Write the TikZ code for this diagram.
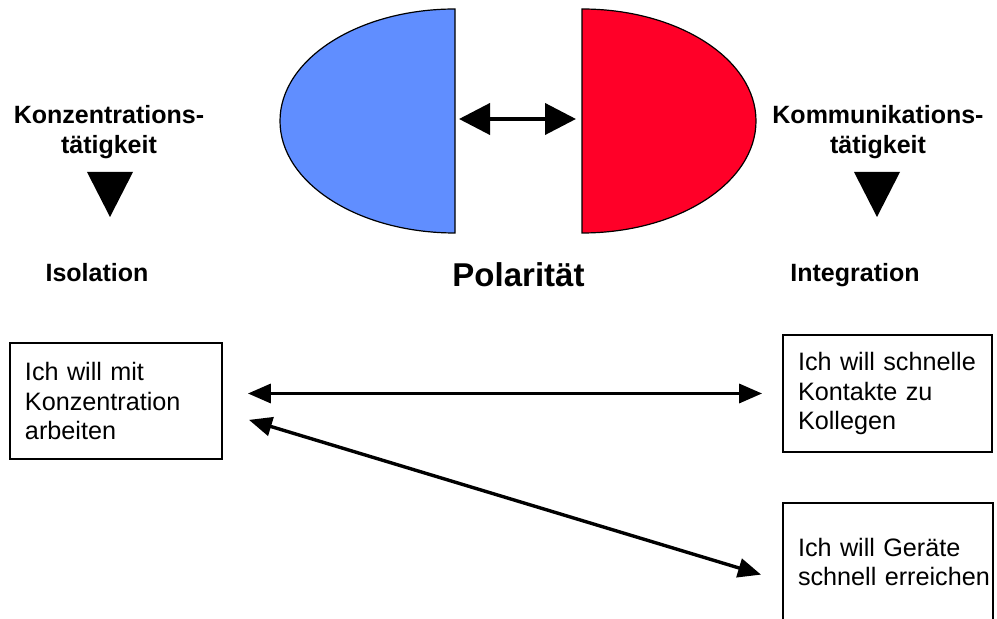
\documentclass[tikz,border=0pt]{standalone}
\usepackage{fontspec}
\setmainfont{Liberation Sans}
\usetikzlibrary{arrows.meta,positioning}
\definecolor{poleblue}{RGB}{96,142,255}
\definecolor{polered}{RGB}{255,0,40}
\tikzset{
  half/.style    = {draw=black, line width=0.6pt},
  heading/.style = {font=\bfseries\fontsize{12.5}{15}\selectfont, align=center},
  idea/.style    = {draw, rectangle, line width=0.9pt, align=left, inner xsep=7.5pt,
                    inner ysep=0pt, font=\fontsize{12.6}{14.8}\selectfont},
  pair/.style    = {{Triangle[length=15.5pt,width=15.5pt]}-{Triangle[length=15.5pt,width=15.5pt]}, line width=2pt},
  link/.style    = {{Triangle[length=11.5pt,width=9.5pt]}-{Triangle[length=11.5pt,width=9.5pt]}, line width=1.7pt}
}

\begin{document}
\begin{tikzpicture}[x=0.5pt, y=-0.5pt]
      \useasboundingbox (0,0) rectangle (997,619);
      \filldraw[half, fill=poleblue] (455,9) arc[start angle=270, end angle=90, x radius=175, y radius=112] -- cycle;
      \filldraw[half, fill=polered] (582,9) arc[start angle=-90, end angle=90, x radius=174, y radius=112] -- cycle;
      \coordinate (bluecut) at (455,119);
      \coordinate (redcut) at (582,119);
      \draw[pair, shorten <=2pt, shorten >=3pt] (bluecut) -- (redcut);

      \node[heading] (konzlabel) at (109,131.7) {Konzentrations-\\tätigkeit};
      \node[heading] (kommlabel) at (878,131.7) {Kommunikations-\\tätigkeit};
      \fill (87,172) -- (133,172) -- (110,217) -- cycle;
      \fill (854,172) -- (900,172) -- (877,217) -- cycle;
      \node[heading, anchor=base] (isolation) at (97,282) {Isolation};
      \node[heading, anchor=base] (integration) at (855,282) {Integration};
      \node[heading, anchor=base, font=\bfseries\fontsize{16.5}{19}\selectfont] (polaritaet) at (518.5,287) {Polarität};

      \node[idea, text width=91pt, minimum height=58pt] (konz) at (116,401)
        {Ich will mit\\Konzentration\\arbeiten};
      \node[idea, text width=89.5pt, minimum height=58.5pt] (kontakt) at (887.5,393.5)
        {\mbox{Ich will schnelle}\\Kontakte zu\\Kollegen};
      \node[idea, text width=90pt, minimum height=59pt] (geraete) at (888,562)
        {Ich will Geräte\\\mbox{schnell erreichen}};
      \draw[link, shorten <=12.5pt, shorten >=10pt] (konz.east |- kontakt.west) -- (kontakt.west);
      \draw[link, shorten <=13.6pt, shorten >=11pt] ([yshift=-5.5pt]konz.east) -- ([yshift=-9.5pt]geraete.west);
    \end{tikzpicture}
\end{document}
